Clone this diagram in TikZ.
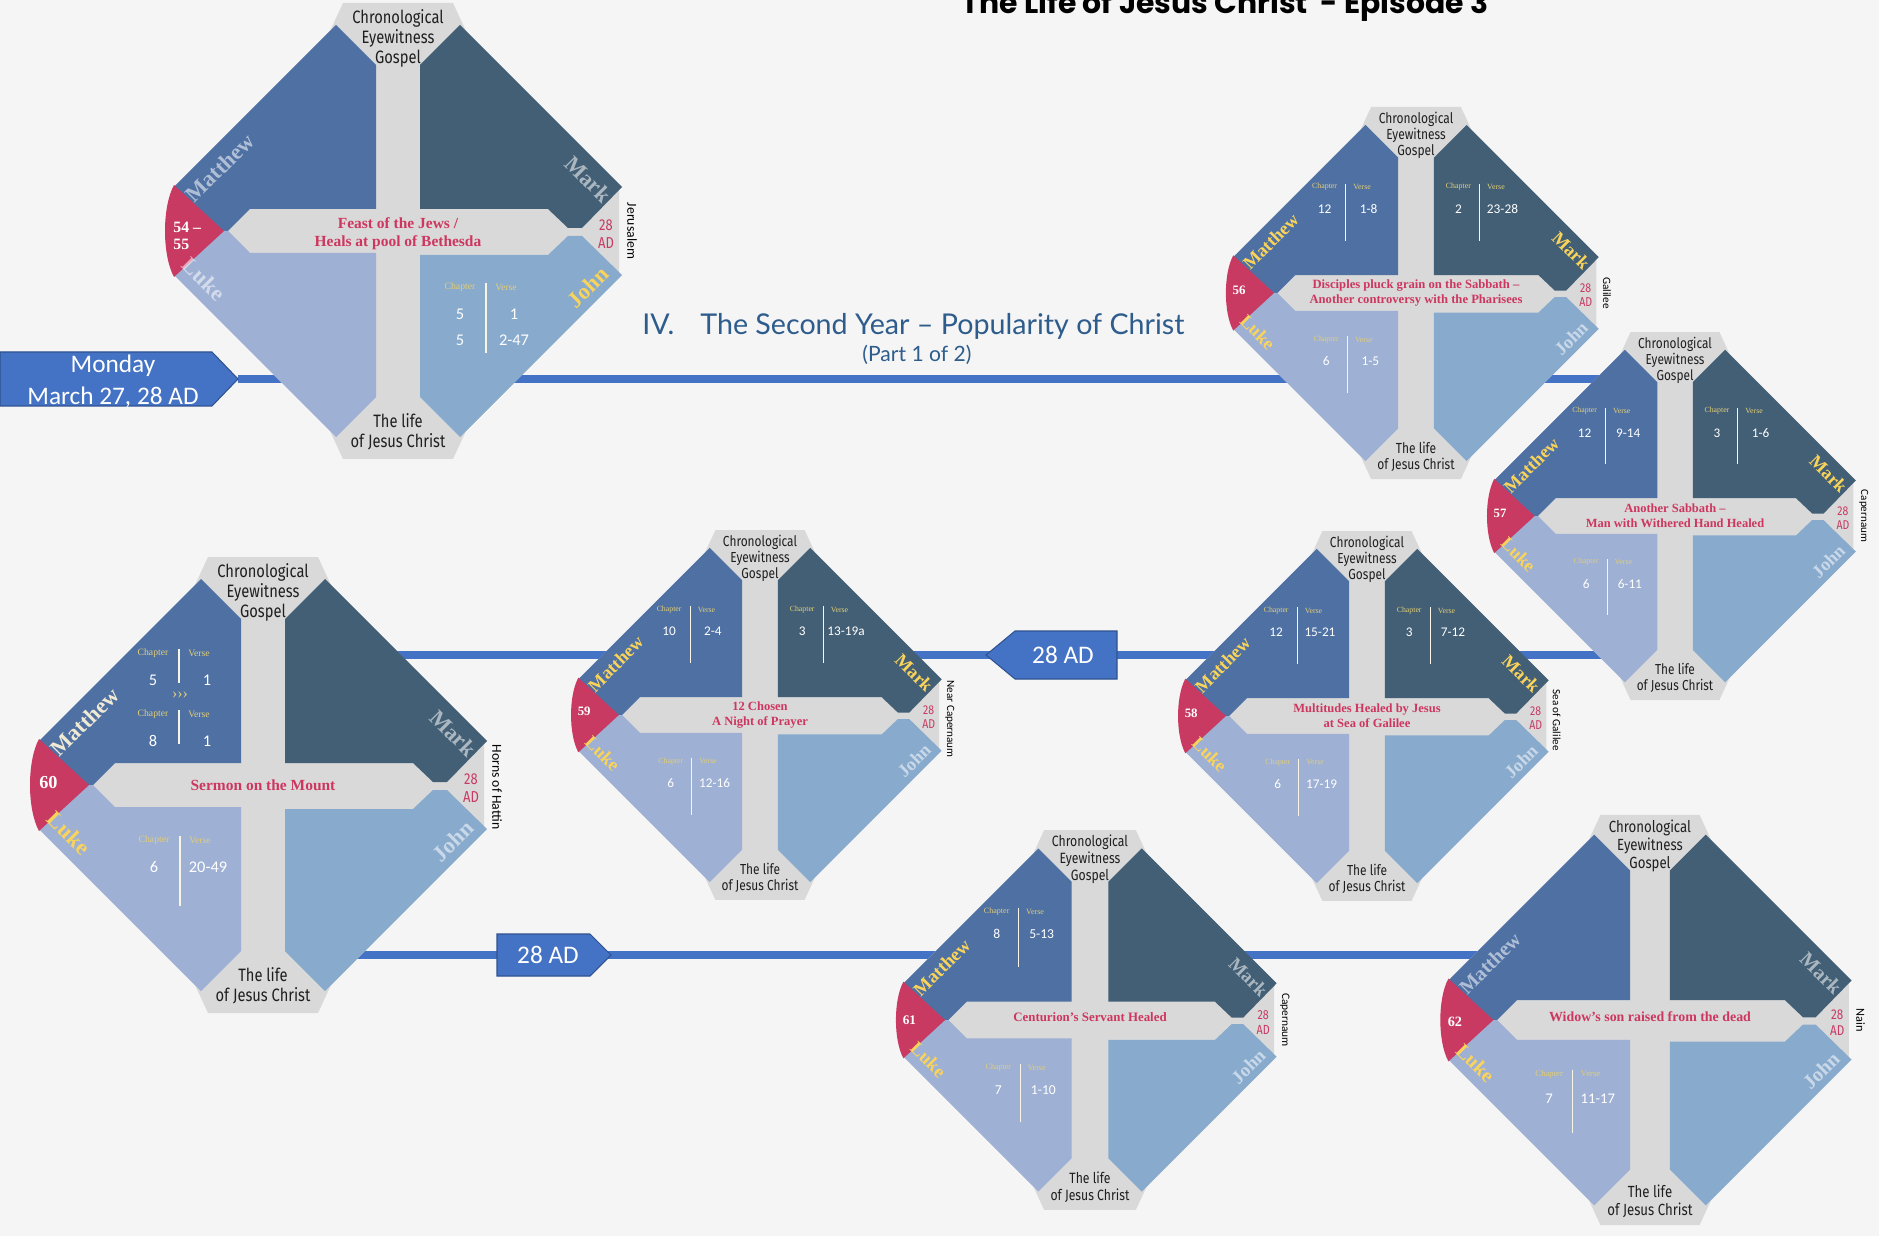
\documentclass[tikz,border=0pt]{standalone}
\usepackage{fontspec}
\setmainfont{Liberation Serif}
\newfontfamily\condfont[FakeStretch=0.82]{Fira Sans}
\newfontfamily\calfont{Carlito}
\newfontfamily\headfont{Poppins}
\newfontfamily\secfont{Lato}
\usepackage{xcolor}
\usetikzlibrary{positioning}

\definecolor{bggray}{RGB}{245,245,245}
\definecolor{bandgray}{RGB}{217,217,217}
\definecolor{mtblue}{RGB}{78,112,163}
\definecolor{mkslate}{RGB}{67,95,117}
\definecolor{lkblue}{RGB}{158,176,212}
\definecolor{jnblue}{RGB}{136,170,205}
\definecolor{numred}{RGB}{200,58,98}
\definecolor{ttlred}{RGB}{205,55,95}
\definecolor{chgold}{RGB}{226,206,120}
\definecolor{gyellow}{RGB}{250,212,90}
\definecolor{gcream}{RGB}{240,234,212}
\definecolor{lineblue}{RGB}{68,114,196}
\definecolor{tagedge}{RGB}{47,82,143}
\definecolor{secblue}{RGB}{46,92,140}

\pgfdeclarelayer{back}
\pgfdeclarelayer{lines}
\pgfsetlayers{back,lines,main}

\tikzset{
  cardtxt/.style={font=\condfont\fontsize{10.2}{11.4}\selectfont, align=center, inner sep=0pt, text=black!88},
  adtxt/.style={font=\condfont\fontsize{9}{10}\selectfont, align=center, inner sep=0pt, text=numred},
  gon/.style={font=\bfseries\fontsize{12.8}{14}\selectfont, text=gyellow, inner sep=0pt},
  goff/.style={gon, text=white, text opacity=0.55},
  gcr/.style={gon, text=gcream},
  ttl/.style={font=\bfseries\fontsize{8.8}{10.4}\selectfont, text=ttlred, align=center, inner sep=0pt},
  num/.style={font=\bfseries\fontsize{9}{10}\selectfont, text=white, align=left, anchor=west, inner sep=0pt},
  plc/.style={font=\calfont\fontsize{7.8}{9}\selectfont, rotate=-90, inner sep=0pt},
  cvhead/.style={font=\fontsize{5.5}{6}\selectfont, text=chgold, inner sep=0pt},
  cvnum/.style={font=\calfont\fontsize{9.3}{10}\selectfont, text=white, inner sep=0pt},
  cvsep/.style={draw=white!80!chgold, line width=0.6pt},
  tline/.style={draw=lineblue, line width=4pt},
  tag/.style={fill=lineblue, draw=tagedge, line width=0.6pt},
  tagtxt/.style={font=\calfont\fontsize{14.4}{18.2}\selectfont, text=white, align=center, inner sep=0pt},
  pics/card/.style n args={4}{code={
    \coordinate (-o) at (0,0);
    \fill[bandgray] (-55,-228) -- (55,-228) -- (68,-200) -- (221,-46) -- (221,46) -- (68,200) -- (55,228) -- (-55,228) -- (-68,200) -- (-223,45) -- (-223,-45) -- (-68,-200) -- cycle;
    \fill[mtblue] (-62,-206) -- (-22,-166) -- (-22,-22) -- (-148,-22) -- (-170,0) -- (-176,0) -- (-224,-44) -- cycle;
    \fill[mkslate] (62,-206) -- (224,-44) -- (184,-3) -- (170,-3) -- (150,-22) -- (22,-22) -- (22,-166) -- cycle;
    \fill[lkblue] (-62,206) -- (-22,166) -- (-22,22) -- (-148,22) -- (-170,0) -- (-176,0) -- (-224,44) -- cycle;
    \fill[jnblue] (62,206) -- (224,44) -- (184,5) -- (170,5) -- (150,24) -- (22,24) -- (22,166) -- cycle;
    \fill[numred] (-224,-46) -- (-174,0) -- (-224,46) .. controls (-236,24) and (-236,-24) .. (-224,-46) -- cycle;
    \node[cardtxt] (-top) at (0,-193) {Chronological\\Eyewitness\\Gospel};
    \node[cardtxt] (-bot) at (0,201) {The life\\of Jesus Christ};
    \node[adtxt] (-ad) at (208,3) {28\\AD};
    \node[#1, rotate=45] (-mt) at (-178,-63) {Matthew};
    \node[#2, rotate=-45] (-mk) at (190,-52) {Mark};
    \node[#3, rotate=-45] (-lk) at (-194,48) {Luke};
    \node[#4, rotate=45] (-jn) at (190,56) {John};
  }},
  pics/cv/.style n args={3}{code={
    \node[cvhead] (-ch) at (0,0) {Chapter};
    \node[cvhead] (-vs) at (46,0) {Verse};
    \draw[cvsep] (26,-4) -- (26,#3);
    \node[cvnum] (-c) at (0,27) {#1};
    \node[cvnum] (-v) at (54,27) {#2};
  }},
}

\begin{document}
\begin{tikzpicture}[x=0.02cm, y=-0.02cm]
  \path[use as bounding box] (0,0) rectangle (1879,1236);
  \begin{pgfonlayer}{back}
    \fill[bggray] (0,0) rectangle (1879,1236);
  \end{pgfonlayer}

  \node[font=\headfont\bfseries\fontsize{17}{20}\selectfont, anchor=base, inner sep=0pt] (eptitle) at (1225,14) {The Life of Jesus Christ\ \ - Episode 3};
  \node[font=\secfont\fontsize{16.3}{19}\selectfont, text=secblue, anchor=base west, inner sep=0pt] (secnum) at (642,335) {IV.};
  \node[font=\secfont\fontsize{16.3}{19}\selectfont, text=secblue, anchor=base west, inner sep=0pt] (sectitle) at (700,335) {The Second Year – Popularity of Christ};
  \node[font=\secfont\fontsize{12}{14}\selectfont, text=secblue, anchor=base, inner sep=0pt] (secpart) at (917,362) {(Part 1 of 2)};

  \begin{scope}[shift={(398,231)}, transform shape]
    \pic (c1) {card={goff}{goff}{goff}{gon}};
    \node[num] (c1num) at (-225,5) {54 –\\55};
    \node[ttl] (c1ttl) at (0,3) {Feast of the Jews /\\Heals at pool of Bethesda};
    \node[plc] (c1plc) at (234,0) {Jerusalem};
    \pic (c1jn) at (62,56) {cv={5}{1}{66}};
    \node[cvnum] (c1jc2) at (62,109) {5};
    \node[cvnum] (c1jv2) at (116,109) {2-47};
  \end{scope}

  \begin{scope}[shift={(1416,293)}, scale=0.816, transform shape]
    \pic (c2) {card={gon}{gon}{gon}{goff}};
    \node[num] (c2num) at (-225,-3) {56};
    \node[ttl] (c2ttl) at (0,0) {Disciples pluck grain on the Sabbath –\\Another controversy with the Pharisees};
    \node[plc] (c2plc) at (234,0) {Galilee};
    \pic (c2mt) at (-112,-130) {cv={12}{1-8}{66}};
    \pic (c2mk) at (52,-130) {cv={2}{23-28}{66}};
    \pic (c2lk) at (-110,57) {cv={6}{1-5}{66}};
  \end{scope}

  \begin{scope}[shift={(1675,516)}, scale=0.807, transform shape]
    \pic (c3) {card={gon}{gon}{gon}{goff}};
    \node[num] (c3num) at (-225,-3) {57};
    \node[ttl] (c3ttl) at (0,0) {Another Sabbath –\\Man with Withered Hand Healed};
    \node[plc] (c3plc) at (234,0) {Capernaum};
    \pic (c3mt) at (-112,-130) {cv={12}{9-14}{66}};
    \pic (c3mk) at (52,-130) {cv={3}{1-6}{66}};
    \pic (c3lk) at (-110,57) {cv={6}{6-11}{66}};
  \end{scope}

  \begin{scope}[shift={(263,785)}, transform shape]
    \pic (c4) {card={gcr}{goff}{gon}{goff}};
    \node[num, font=\bfseries\fontsize{10.4}{11}\selectfont] (c4num) at (-224,-2) {60};
    \node[ttl] (c4ttl) at (0,0) {Sermon on the Mount};
    \node[plc] (c4plc) at (234,2) {Horns of Hattin};
    \pic (c4mt) at (-110,-132) {cv={5}{1}{30}};
    \node[cvhead, font=\fontsize{9}{9}\selectfont] (c4more) at (-83,-90) {›››};
    \pic (c4mt2) at (-110,-71) {cv={8}{1}{30}};
    \pic (c4lk) at (-109,55) {cv={6}{20-49}{66}};
  \end{scope}

  \begin{scope}[shift={(760,715)}, scale=0.811, transform shape]
    \pic (c5) {card={gon}{gon}{gon}{goff}};
    \node[num] (c5num) at (-225,-4) {59};
    \node[ttl] (c5ttl) at (0,0) {12 Chosen\\A Night of Prayer};
    \node[plc] (c5plc) at (234,5) {Near Capernaum};
    \pic (c5mt) at (-112,-130) {cv={10}{2-4}{66}};
    \pic (c5mk) at (52,-130) {cv={3}{13-19a}{66}};
    \pic (c5lk) at (-110,57) {cv={6}{12-16}{66}};
  \end{scope}

  \begin{scope}[shift={(1367,716)}, scale=0.811, transform shape]
    \pic (c6) {card={gon}{gon}{gon}{goff}};
    \node[num] (c6num) at (-225,-3) {58};
    \node[ttl] (c6ttl) at (0,0) {Multitudes Healed by Jesus\\at Sea of Galilee};
    \node[plc] (c6plc) at (234,5) {Sea of Galilee};
    \pic (c6mt) at (-112,-130) {cv={12}{15-21}{66}};
    \pic (c6mk) at (52,-130) {cv={3}{7-12}{66}};
    \pic (c6lk) at (-110,57) {cv={6}{17-19}{66}};
  \end{scope}

  \begin{scope}[shift={(1090,1020)}, scale=0.833, transform shape]
    \pic (c7) {card={gon}{goff}{gon}{goff}};
    \node[num] (c7num) at (-225,0) {61};
    \node[ttl] (c7ttl) at (0,-4) {Centurion’s Servant Healed};
    \node[plc] (c7plc) at (234,0) {Capernaum};
    \pic (c7mt) at (-112,-130) {cv={8}{5-13}{66}};
    \pic (c7lk) at (-110,57) {cv={7}{1-10}{66}};
  \end{scope}

  \begin{scope}[shift={(1650,1020)}, scale=0.9, transform shape]
    \pic (c8) {card={goff}{goff}{gon}{goff}};
    \node[num] (c8num) at (-225,2) {62};
    \node[ttl] (c8ttl) at (0,-4) {Widow’s son raised from the dead};
    \node[plc] (c8plc) at (234,0) {Nain};
    \pic (c8lk) at (-112,60) {cv={7}{11-17}{66}};
  \end{scope}

  \fill[tag] (0,352) -- (212,352) -- (238,379) -- (212,406) -- (0,406) -- cycle;
  \node[tagtxt] (mon) at (113,381) {Monday\\March 27, 28 AD};
  \coordinate (montip) at (238,379);

  \fill[tag] (986,655) -- (1015,631) -- (1117,631) -- (1117,679) -- (1015,679) -- cycle;
  \node[tagtxt] (tagb) at (1063,655) {28 AD};

  \fill[tag] (497,934) -- (590,934) -- (611,955) -- (590,976) -- (497,976) -- cycle;
  \node[tagtxt] (tagc) at (548,955) {28 AD};

  \begin{pgfonlayer}{lines}
    \draw[tline] (montip) -- (montip -| c3-o);
    \draw[tline] (c4-o |- tagb.center) -- (c3-o |- tagb.center);
    \draw[tline] (c4-o |- tagc.center) -- (c8-o |- tagc.center);
  \end{pgfonlayer}
\end{tikzpicture}
\end{document}
